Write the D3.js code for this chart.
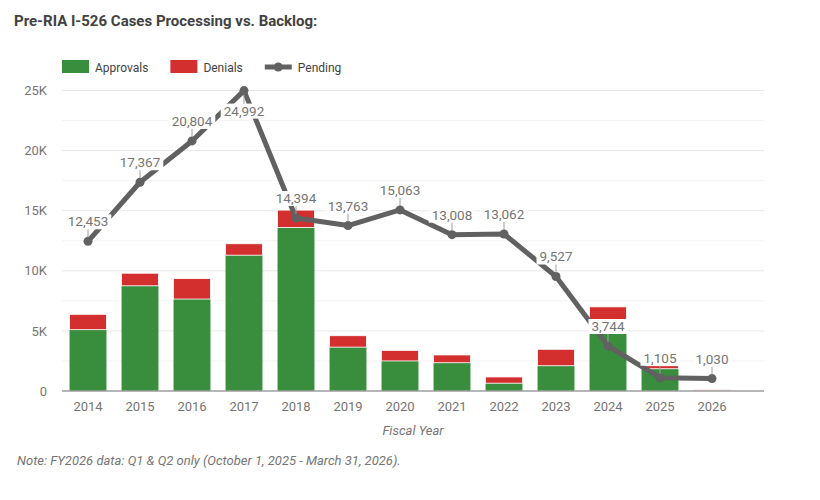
<!DOCTYPE html>
<html>
<head>
<meta charset="utf-8">
<script src="https://cdn.jsdelivr.net/npm/d3@7"></script>
<style>
  body { margin: 0; background: #fff; font-family: Roboto, "Noto Sans", sans-serif; }
</style>
</head>
<body>
<div id="chart"></div>
<script>
// Data
const years = ['2014', '2015', '2016', '2017', '2018', '2019', '2020', '2021', '2022', '2023', '2024', '2025', '2026'];
const approvals = [5100, 8750, 7650, 11300, 13600, 3650, 2500, 2350, 650, 2100, 5950, 1850, 20];
const denials = [1280, 1050, 1700, 950, 1450, 950, 880, 650, 520, 1370, 1050, 250, 90];
const pending = [12453, 17367, 20804, 24992, 14394, 13763, 15063, 13008, 13062, 9527, 3744, 1105, 1030];
const yTicks = [0, 5000, 10000, 15000, 20000, 25000];
const yMinor = [2500, 7500, 12500, 17500, 22500];

const w = 820;
const h = 500;
const plotL = 62, plotR = 764, plotT = 90.5, plotB = 391;

const green = '#388e3c';
const red = '#d32f2f';
const gray = '#616161';

const svg = d3.select('#chart')
  .append('svg')
  .attr('width', w)
  .attr('height', h);

const x = d3.scaleBand()
  .domain(years)
  .range([plotL, plotL + 52 * years.length])
  .paddingInner(0.29)
  .paddingOuter(0.145);

const y = d3.scaleLinear()
  .domain([0, 25000])
  .range([plotB, plotT]);

//Title
svg.append('text')
  .attr('x', 14)
  .attr('y', 26)
  .attr('font-size', 15)
  .attr('font-weight', 'bold')
  .attr('fill', '#424242')
  .text('Pre-RIA I-526 Cases Processing vs. Backlog:');

//Gridlines
svg.append('g')
  .selectAll('line')
  .data(yMinor)
  .enter()
  .append('line')
  .attr('x1', plotL).attr('x2', plotR)
  .attr('y1', d => y(d)).attr('y2', d => y(d))
  .attr('stroke', '#f3f3f3');

svg.append('g')
  .selectAll('line')
  .data(yTicks.slice(1))
  .enter()
  .append('line')
  .attr('x1', plotL).attr('x2', plotR)
  .attr('y1', d => y(d)).attr('y2', d => y(d))
  .attr('stroke', '#e8e8e8');

//Y axis
const yAxis = svg.append('g')
  .attr('transform', `translate(${plotL},0)`)
  .call(d3.axisLeft(y)
    .tickValues(yTicks)
    .tickSize(0)
    .tickPadding(15)
    .tickFormat(d => d === 0 ? '0' : d / 1000 + 'K'));
yAxis.select('.domain').remove();
yAxis.selectAll('text')
  .attr('font-family', 'Roboto')
  .attr('font-size', 13)
  .attr('fill', '#757575');

//Bars
const stack = years.map((yr, i) => ({ year: yr, a: approvals[i], d: denials[i] }));

svg.append('g')
  .selectAll('rect')
  .data(stack)
  .enter()
  .append('rect')
  .attr('x', d => x(d.year))
  .attr('width', x.bandwidth())
  .attr('y', d => y(d.a))
  .attr('height', d => y(0) - y(d.a))
  .attr('fill', green);

svg.append('g')
  .selectAll('rect')
  .data(stack)
  .enter()
  .append('rect')
  .attr('x', d => x(d.year))
  .attr('width', x.bandwidth())
  .attr('y', d => y(d.a + d.d))
  .attr('height', d => y(d.a) - y(d.a + d.d))
  .attr('fill', red)
  .attr('stroke', '#fff')
  .attr('stroke-width', 0.8);

//X axis
const xAxis = svg.append('g')
  .attr('transform', `translate(0,${plotB})`)
  .call(d3.axisBottom(x).tickSize(0).tickPadding(11));
xAxis.select('.domain').remove();
xAxis.selectAll('text')
  .attr('font-family', 'Roboto')
  .attr('font-size', 13)
  .attr('fill', '#757575');

svg.append('line')
  .attr('x1', plotL).attr('x2', plotR)
  .attr('y1', plotB).attr('y2', plotB)
  .attr('stroke', '#9e9e9e')
  .attr('stroke-width', 1.5);

//Pending line
const pts = years.map((yr, i) => ({ year: yr, v: pending[i] }));
const cx = d => x(d.year) + x.bandwidth() / 2;

svg.append('path')
  .datum(pts)
  .attr('d', d3.line().x(cx).y(d => y(d.v)))
  .attr('fill', 'none')
  .attr('stroke', gray)
  .attr('stroke-width', 5)
  .attr('stroke-linejoin', 'round');

svg.append('g')
  .selectAll('circle')
  .data(pts)
  .enter()
  .append('circle')
  .attr('cx', cx)
  .attr('cy', d => y(d.v))
  .attr('r', 4.5)
  .attr('fill', gray);

//Pending labels with white boxes and leader ticks
const fmt = d3.format(',');
const labels = svg.append('g')
  .selectAll('g')
  .data(pts)
  .enter()
  .append('g');

labels.each(function(d) {
  const g = d3.select(this);
  const px = cx(d), py = y(d.v);
  const below = py - 28 < plotT;
  const base = below ? py + 25 : py - 15;
  const t = g.append('text')
    .attr('x', px)
    .attr('y', base)
    .attr('text-anchor', 'middle')
    .attr('font-size', 13.5)
    .attr('fill', '#757575')
    .text(fmt(d.v));
  const tw = t.node().getComputedTextLength();
  g.insert('rect', 'text')
    .attr('x', px - tw / 2 - 3)
    .attr('y', base - 12)
    .attr('width', tw + 6)
    .attr('height', 15)
    .attr('fill', '#fff');
  g.append('line')
    .attr('x1', px).attr('x2', px)
    .attr('y1', below ? base - 12 : base + 3)
    .attr('y2', below ? py + 4 : py - 4)
    .attr('stroke', '#9e9e9e')
    .attr('stroke-width', 1);
});

//Legend
const legend = svg.append('g').attr('font-size', 12).attr('fill', '#424242');
let lx = 62;
const items = [
  { name: 'Approvals', type: 'bar', color: green },
  { name: 'Denials', type: 'bar', color: red },
  { name: 'Pending', type: 'line', color: gray }
];
items.forEach(it => {
  if (it.type === 'bar') {
    legend.append('rect')
      .attr('x', lx).attr('y', 60)
      .attr('width', 27).attr('height', 13)
      .attr('fill', it.color);
  } else {
    legend.append('line')
      .attr('x1', lx).attr('x2', lx + 27)
      .attr('y1', 67).attr('y2', 67)
      .attr('stroke', it.color).attr('stroke-width', 5);
    legend.append('circle')
      .attr('cx', lx + 13.5).attr('cy', 67).attr('r', 4.5)
      .attr('fill', it.color);
  }
  const t = legend.append('text')
    .attr('x', lx + 33).attr('y', 71.5)
    .text(it.name);
  lx += 33 + t.node().getComputedTextLength() + 22;
});

//Axis title and note
svg.append('text')
  .attr('x', (plotL + plotR) / 2)
  .attr('y', 435)
  .attr('text-anchor', 'middle')
  .attr('font-size', 13)
  .attr('font-style', 'italic')
  .attr('fill', '#757575')
  .text('Fiscal Year');

svg.append('text')
  .attr('x', 17)
  .attr('y', 464.5)
  .attr('font-size', 13)
  .attr('font-style', 'italic')
  .attr('fill', '#757575')
  .text('Note: FY2026 data: Q1 & Q2 only (October 1, 2025 - March 31, 2026).');
</script>
</body>
</html>
